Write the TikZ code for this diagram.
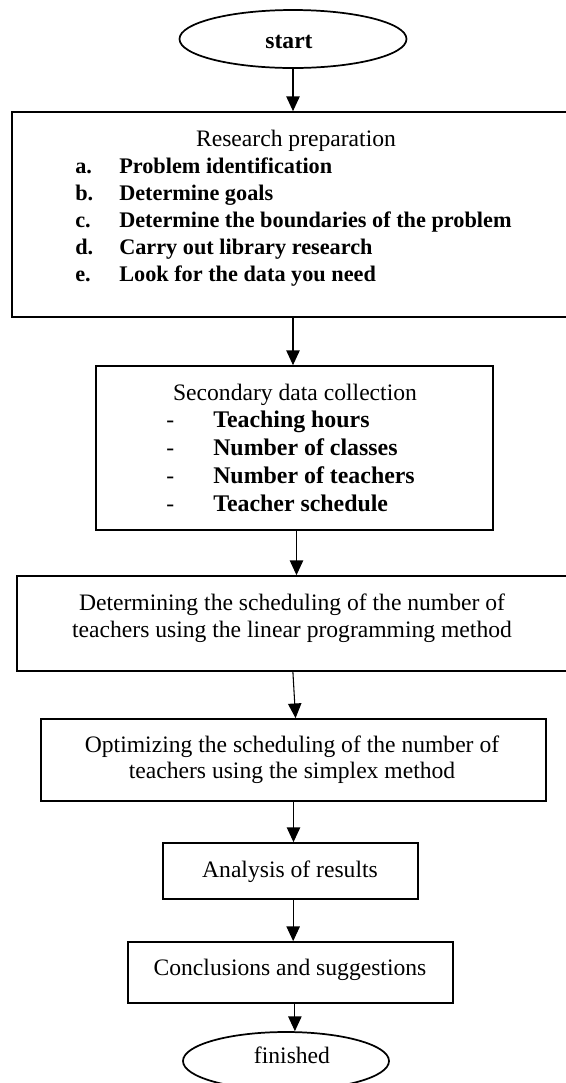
\documentclass[tikz,border=0pt]{standalone}
\usepackage{fontspec}
\setmainfont{Liberation Serif}
\usetikzlibrary{arrows.meta,shapes.geometric}
\begin{document}
\begin{tikzpicture}[x=0.75pt,y=-0.75pt,
  every node/.style={font=\fontsize{17.7}{21}\selectfont},
  boxshape/.style={draw, line width=1.3pt, rectangle, inner sep=0pt},
  term/.style={draw, line width=1.3pt, ellipse, inner sep=0pt},
  txt/.style={anchor=base, inner sep=0pt},
  txtl/.style={anchor=base west, inner sep=0pt, font=\fontsize{17.9}{21}\selectfont\bfseries},
  txtla/.style={anchor=base west, inner sep=0pt, font=\fontsize{16.7}{20}\selectfont\bfseries},
  arr/.style={line width=0.8pt, -{Triangle[length=11pt,width=10pt]}}]
\useasboundingbox (0,0) rectangle (566,1083);
\clip (0,0) rectangle (566,1083);

% shapes
\node[term, minimum width=170.25pt, minimum height=43.5pt] (start) at (293,39) {};
\node[boxshape, minimum width=420pt, minimum height=153.75pt] (b1) at (292,214.5) {};
\node[boxshape, minimum width=297.75pt, minimum height=123pt] (b2) at (294.5,448) {};
\node[boxshape, minimum width=416.25pt, minimum height=71.25pt] (b3) at (294.5,623.5) {};
\node[boxshape, minimum width=378.75pt, minimum height=61.5pt] (b4) at (293.5,760) {};
\node[boxshape, minimum width=191.25pt, minimum height=42pt] (b5) at (290.5,871) {};
\node[boxshape, minimum width=243.75pt, minimum height=45.75pt] (b6) at (290.5,972.5) {};
\node[term, minimum width=154.5pt, minimum height=43.5pt] (fin) at (286,1061) {};

% texts
\node[txt, font=\fontsize{17.7}{21}\selectfont\bfseries] (tstart) at (289,48) {start};

\node[txt] (t1) at (296,146) {Research preparation};
\node[txtla] (t1al) at (75,173) {a.};
\node[txtla] (t1a) at (119,173) {Problem identification};
\node[txtla] (t1bl) at (75,200) {b.};
\node[txtla] (t1b) at (119,200) {Determine goals};
\node[txtla] (t1cl) at (75,227) {c.};
\node[txtla] (t1c) at (119,227) {Determine the boundaries of the problem};
\node[txtla] (t1dl) at (75,254) {d.};
\node[txtla] (t1d) at (119,254) {Carry out library research};
\node[txtla] (t1el) at (75,281) {e.};
\node[txtla] (t1e) at (119,281) {Look for the data you need};

\node[txt] (t2) at (295,400) {Secondary data collection};
\node[txtl, font=\fontsize{17.7}{21}\selectfont] (t2al) at (166,427) {-};
\node[txtl] (t2a) at (213,427) {Teaching hours};
\node[txtl, font=\fontsize{17.7}{21}\selectfont] (t2bl) at (166,455) {-};
\node[txtl] (t2b) at (213,455) {Number of classes};
\node[txtl, font=\fontsize{17.7}{21}\selectfont] (t2cl) at (166,483) {-};
\node[txtl] (t2c) at (213,483) {Number of teachers};
\node[txtl, font=\fontsize{17.7}{21}\selectfont] (t2dl) at (166,511) {-};
\node[txtl] (t2d) at (213,511) {Teacher schedule};

\node[txt] (t3a) at (292,610) {Determining the scheduling of the number of};
\node[txt] (t3b) at (292,637) {teachers using the linear programming method};

\node[txt] (t4a) at (292,752) {Optimizing the scheduling of the number of};
\node[txt] (t4b) at (292,778) {teachers using the simplex method};

\node[txt] (t5) at (290,877) {Analysis of results};
\node[txt] (t6) at (290,975) {Conclusions and suggestions};
\node[txt] (tfin) at (292,1063) {finished};

% connectors
\draw[arr] (start.south) -- (start.south |- b1.north);
\draw[arr] ([xshift=0.75pt]b1.south) -- ([xshift=0.75pt]b1.south |- b2.north);
\draw[arr] ([xshift=1.5pt]b2.south) -- ([xshift=1.5pt]b2.south |- b3.north);
\draw[arr] ([xshift=-1.2pt]b3.south) -- ([xshift=0.8pt]b3.south |- b4.north);
\draw[arr] (b4.south) -- (b4.south |- b5.north);
\draw[arr] ([xshift=2pt]b5.south) -- ([xshift=2pt]b5.south |- b6.north);
\draw[arr] ([xshift=3.3pt]b6.south) -- ([xshift=3.3pt]b6.south |- fin.north);
\end{tikzpicture}
\end{document}
